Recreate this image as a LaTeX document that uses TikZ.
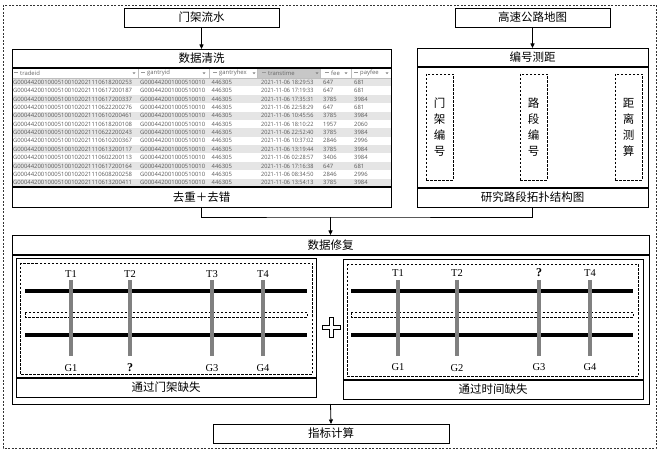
\documentclass[tikz,border=0pt]{standalone}
\usepackage{fontspec}
\setmainfont{Liberation Serif}
\newfontfamily\cjk{Noto Sans CJK SC}
\newfontfamily\tabf{Open Sans}
\usetikzlibrary{arrows.meta}
\begin{document}
\begin{tikzpicture}[x=1pt,y=-1pt,
  box/.style={draw=black, line width=0.8pt, inner sep=0pt, outer sep=0pt, anchor=north west},
  lbl/.style={font=\cjk\fontsize{11.5}{13}\selectfont, inner sep=0pt},
  vlbl/.style={font=\cjk\fontsize{11.5}{16}\selectfont, align=center},
  arr/.style={line width=0.8pt, -{Triangle[length=4.5pt,width=4pt]}},
  conn/.style={line width=0.8pt},
  sepl/.style={line width=1.6pt},
  road/.style={line width=3.8pt},
  pole/.style={line width=4pt, draw=black!50},
  dbox/.style={draw=black, line width=0.8pt, dash pattern=on 2.5pt off 1.5pt, inner sep=0pt, outer sep=0pt, anchor=north west},
  strip/.style={draw=black, line width=0.7pt, dash pattern=on 2.5pt off 1.5pt},
  tl/.style={font=\fontsize{10.5}{12}\selectfont, inner sep=0pt},
  qm/.style={font=\fontsize{12}{12}\selectfont\bfseries, inner sep=0pt},
  cell/.style={font=\tabf\fontsize{5.9}{7}\selectfont, text=black!65, inner sep=0pt, anchor=west},
  hcell/.style={font=\tabf\fontsize{5.9}{7}\selectfont, text=black!60, inner sep=0pt, anchor=west},
]
\useasboundingbox (0,0) rectangle (661,454);
% outer dashed frame
\draw[line width=0.8pt, draw=black!80, dash pattern=on 2pt off 1.5pt] (3,5) rectangle (656,448);

% top boxes
\node[box, minimum width=155pt, minimum height=19pt, lbl] (gate) at (124,8) {门架流水};
\node[box, minimum width=155pt, minimum height=19pt, lbl] (map) at (455,8) {高速公路地图};

% data cleaning block
\node[box, minimum width=379pt, minimum height=158pt] (clean) at (12,49) {};
\node[lbl] (cleant) at (201.5,58.5) {数据清洗};
% table
\foreach \k in {0,2,...,12}
  \fill[black!10] (12.5,{78+\k*8.385}) rectangle (390.5,{78+(\k+1)*8.385});
\fill[black!22] (257,68.8) rectangle (320,78);
\foreach \xx in {138,209,257,320,351}
  \draw[black!25, line width=0.4pt] (\xx,68.8) -- (\xx,78);
\draw[black!25, line width=0.4pt] (12.5,78) -- (390.5,78);
\foreach \hx/\hn/\dx in {20/tradeid/134, 147/gantryid/204, 219/gantryhex/254, 268/transtime/317, 331/fee/346, 360/payfee/387}{
  \fill[black!40] (\hx-6,71.8) rectangle (\hx-4.2,73.4);
  \fill[black!40] (\hx-3.6,71.8) rectangle (\hx-1.8,73.4);
  \node[hcell] at (\hx,73.3) {\hn};
  \fill[black!50] (\dx-1.5,72.3) -- (\dx+1.5,72.3) -- (\dx,74.2) -- cycle;
}
\foreach \ta/\tb/\tc/\td [count=\i] in {
  18200253/18:29:53/647/681,
  17200187/17:19:33/647/681,
  17200337/17:35:31/3785/3984,
  22200276/22:58:29/647/681,
  10200461/10:45:56/3785/3984,
  18200108/18:10:22/1957/2060,
  22200243/22:52:40/3785/3984,
  10200367/10:37:02/2846/2996,
  13200117/13:19:44/3785/3984,
  02200113/02:28:57/3406/3984,
  17200164/17:16:38/647/681,
  08200258/08:34:50/2846/2996,
  13200411/13:54:13/3785/3984}{
  \node[cell] at (12.8,{78+(\i-0.5)*8.385}) {G00044200100051001020211106\ta};
  \node[cell] at (140,{78+(\i-0.5)*8.385}) {G000442001000510010};
  \node[cell] at (211.5,{78+(\i-0.5)*8.385}) {446305};
  \node[cell] at (261,{78+(\i-0.5)*8.385}) {\scalebox{0.94}[1]{2021-11-06 \tb}};
  \node[cell] at (323,{78+(\i-0.5)*8.385}) {\tc};
  \node[cell] at (354,{78+(\i-0.5)*8.385}) {\td};
}
\draw[sepl] (12,68) -- (391,68);
\draw[sepl] (12,187) -- (391,187);
\node[lbl] (cleanc) at (201.5,197) {去重＋去错};

% numbering block
\node[box, minimum width=231pt, minimum height=159pt] (topo) at (417,48) {};
\node[lbl] (topot) at (532.5,57.5) {编号测距};
\draw[sepl] (417,67) -- (648,67);
\draw[sepl] (417,188) -- (648,188);
\node[lbl] (topoc) at (532.5,197.5) {研究路段拓扑结构图};
\node[dbox, minimum width=27pt, minimum height=106pt] (v1) at (426,74) {};
\node[dbox, minimum width=27pt, minimum height=106pt] (v2) at (520,74) {};
\node[dbox, minimum width=27pt, minimum height=106pt] (v3) at (615,74) {};
\node[vlbl] at (v1.center) {门\\架\\编\\号};
\node[vlbl] at (v2.center) {路\\段\\编\\号};
\node[vlbl] at (v3.center) {距\\离\\测\\算};

% data repair block
\node[box, minimum width=637pt, minimum height=169pt] (repair) at (12,235) {};
\node[lbl] (repairt) at (330.5,245) {数据修复};
\draw[sepl] (12,255) -- (649,255);

% left panel
\node[box, minimum width=300pt, minimum height=139pt] (pl) at (16,258) {};
\draw[sepl] (16,378) -- (316,378);
\node[lbl] (plc) at (166,387.5) {通过门架缺失};
\draw[line width=0.8pt, dash pattern=on 2.5pt off 1.5pt] (20,263) rectangle (312,374);
\draw[road] (25,291) -- (307,291);
\draw[road] (25,335) -- (307,335);
\draw[strip] (25,312) rectangle (307,317);
\foreach \px in {71,130,212,263}
  \draw[pole] (\px,280) -- (\px,356);
\node[tl] at (71,274) {T1};
\node[tl] at (130,274) {T2};
\node[tl] at (212,274) {T3};
\node[tl] at (263,274) {T4};
\node[tl] at (71,368) {G1};
\node[qm] at (130,368) {?};
\node[tl] at (212,368) {G3};
\node[tl] at (263,368) {G4};

% right panel
\node[box, minimum width=300pt, minimum height=140pt] (pr) at (343,259) {};
\draw[sepl] (343,380) -- (643,380);
\node[lbl] (prc) at (493,389.5) {通过时间缺失};
\draw[line width=0.8pt, dash pattern=on 2.5pt off 1.5pt] (347,264) rectangle (638,376);
\draw[road] (351,291) -- (633,291);
\draw[road] (351,335) -- (633,335);
\draw[strip] (351,312) rectangle (633,317);
\foreach \px in {398,457,539,590}
  \draw[pole] (\px,280) -- (\px,356);
\node[tl] at (398,273) {T1};
\node[tl] at (457,273) {T2};
\node[qm] at (539,273) {?};
\node[tl] at (590,273) {T4};
\node[tl] at (398,367) {G1};
\node[tl] at (457,368) {G2};
\node[tl] at (539,367) {G3};
\node[tl] at (590,367) {G4};

% plus sign
\draw[line width=0.7pt, fill=white] (329,317) -- (333,317) -- (333,325) -- (340,325) -- (340,329) -- (333,329) -- (333,337) -- (329,337) -- (329,329) -- (322,329) -- (322,325) -- (329,325) -- cycle;

% indicator box
\node[box, minimum width=236pt, minimum height=19pt, lbl] (ind) at (213,424) {指标计算};

% connectors
\coordinate (j) at (330.5,217);
\draw[arr] (gate.south) -- (clean.north);
\draw[arr] (map.south) -- (topo.north);
\draw[conn] (clean.south) |- (j) -| (topo.south);
\draw[arr] (j) -- (repair.north);
\draw[arr] (repair.south) -- (ind.north);
\end{tikzpicture}
\end{document}
